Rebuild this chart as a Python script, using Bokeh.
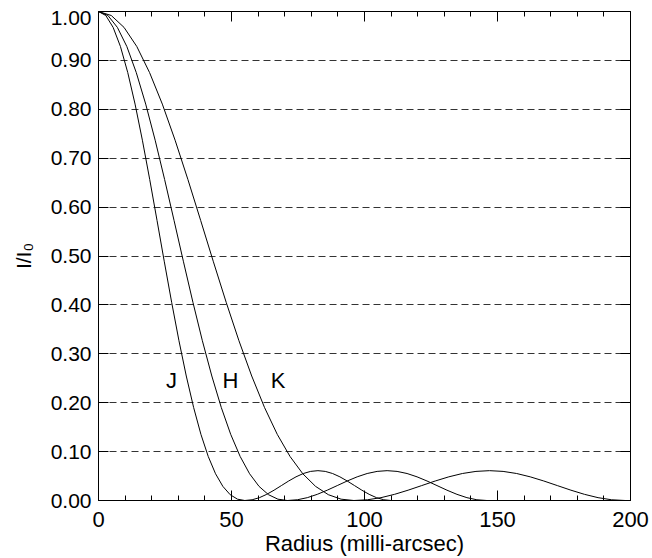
import math
from bokeh.plotting import figure
from bokeh.models import (Range1d, FixedTicker, LinearAxis, NumeralTickFormatter,
                          CustomJSTickFormatter, ColumnDataSource)
from bokeh.core.properties import value
from bokeh.embed import file_html
from bokeh.resources import INLINE

# ---- data ----
# radius (milli-arcsec) sample points for each band
j_radius = [0, 2.75, 5.5, 8.25, 11, 13.75, 16.5, 19.25, 22, 24.75, 27.5, 30.25, 33, 35.75,
            38.5, 41.25, 44, 46.75, 49.5, 52.25, 55, 57.75, 60.5, 63.25, 66, 68.75, 71.5,
            74.25, 77, 79.75, 82.5, 85.25, 88, 90.75, 93.5, 96.25, 99, 101.75, 104.5,
            107.25, 110, 200]
h_radius = [0, 3.55, 7.1, 10.65, 14.2, 17.75, 21.3, 24.85, 28.4, 31.95, 35.5, 39.05, 42.6,
            46.15, 49.7, 53.25, 56.8, 60.35, 63.9, 67.45, 71, 74.75, 78.5, 82.25, 86, 89.75,
            93.5, 97.25, 101, 104.75, 108.5, 112.25, 116, 119.75, 123.5, 127.25, 131,
            134.75, 138.5, 142.25, 146, 200]
k_radius = [0, 4.8, 9.6, 14.4, 19.2, 24, 28.8, 33.6, 38.4, 43.2, 48, 52.8, 57.6, 62.4, 67.2,
            72, 76.8, 81.6, 86.4, 91.2, 96, 101.1, 106.2, 111.3, 116.4, 121.5, 126.6, 131.7,
            136.8, 141.9, 147, 152.1, 157.2, 162.3, 167.4, 172.5, 177.6, 182.7, 187.8,
            192.9, 198, 200]
# normalised intensity I/I0 at those points (same profile shape for the three bands)
j_intensity = [1.0, 0.9918, 0.9675, 0.9284, 0.8751, 0.8106, 0.7368, 0.6566, 0.5728, 0.4881,
               0.4053, 0.3267, 0.2546, 0.1904, 0.1353, 0.0901, 0.0547, 0.0289, 0.0119,
               0.0027, 0.0, 0.0015, 0.0058, 0.0126, 0.0211, 0.0305, 0.0399, 0.0484, 0.0552,
               0.0595, 0.061, 0.0595, 0.0552, 0.0484, 0.0399, 0.0305, 0.0211, 0.0126,
               0.0058, 0.0015, 0.0, 0.0]
h_intensity = list(j_intensity)
k_intensity = list(j_intensity)

band_names = ["J", "H", "K"]
band_label_x = [27.4, 49.6, 67.5]
band_label_y = [0.246, 0.246, 0.246]

x_ticks = [0, 50, 100, 150, 200]
x_minor_ticks = [10, 20, 30, 40, 60, 70, 80, 90, 110, 120, 130, 140, 160, 170, 180, 190]
y_ticks = [0.0, 0.1, 0.2, 0.3, 0.4, 0.5, 0.6, 0.7, 0.8, 0.9]
grid_levels = [0.1, 0.2, 0.3, 0.4, 0.5, 0.6, 0.7, 0.8, 0.9]
top_label = "1.00"
x_title = "Radius (milli-arcsec)"
y_title = "I/I\u2080"

FONT = "Liberation Sans"
TOP_LABEL_POS = 0.9857   # the "1.00" label sits a few pixels under the top edge

p = figure(width=652, height=558, output_backend="svg", toolbar_location=None,
           x_range=Range1d(0, 200), y_range=Range1d(0, 1),
           min_border_left=98, min_border_right=22, min_border_top=11, min_border_bottom=58)
p.background_fill_color = "white"
p.border_fill_color = "white"
p.outline_line_color = "black"
p.outline_line_width = 1

# grid
p.xgrid.visible = False
p.ygrid.ticker = FixedTicker(ticks=grid_levels, minor_ticks=[])
p.ygrid.grid_line_color = "#333333"
p.ygrid.grid_line_width = 1
p.ygrid.grid_line_dash = "7 4"

blank = CustomJSTickFormatter(code="return '';")

def ticks_only(ax, minor_len):
    ax.axis_line_color = "black"
    ax.axis_line_width = 1
    ax.major_tick_line_color = "black"
    ax.minor_tick_line_color = "black"
    ax.major_tick_in = 10
    ax.major_tick_out = 0
    ax.minor_tick_in = minor_len
    ax.minor_tick_out = 0
    ax.formatter = blank
    ax.major_label_text_font_size = "0px"
    ax.major_label_standoff = 0
    ax.axis_label_standoff = 0

# bottom axis: ticks + labels + title
xb = p.xaxis[0]
xb.ticker = FixedTicker(ticks=x_ticks, minor_ticks=x_minor_ticks)
xb.axis_line_color = "black"
xb.major_tick_line_color = "black"
xb.minor_tick_line_color = "black"
xb.major_tick_in = 10
xb.major_tick_out = 0
xb.minor_tick_in = 5
xb.minor_tick_out = 0
xb.major_label_text_font = FONT
xb.major_label_text_font_size = "22px"
xb.major_label_text_color = "black"
xb.major_label_standoff = 11
xb.axis_label = x_title
xb.axis_label_text_font = FONT
xb.axis_label_text_font_size = "22px"
xb.axis_label_text_font_style = "normal"
xb.axis_label_text_color = "black"
xb.axis_label_standoff = 1

# left axis (closest to frame): tick marks only
yl = p.yaxis[0]
yl.ticker = FixedTicker(ticks=y_ticks, minor_ticks=[])
ticks_only(yl, 0)

# second left axis: tick labels and title only
yl2 = LinearAxis(ticker=FixedTicker(ticks=y_ticks + [TOP_LABEL_POS], minor_ticks=[]),
                 formatter=NumeralTickFormatter(format="0.00"))
yl2.major_label_overrides = {TOP_LABEL_POS: top_label}
yl2.axis_line_color = None
yl2.major_tick_line_color = None
yl2.minor_tick_line_color = None
yl2.major_tick_in = 0
yl2.major_tick_out = 0
yl2.major_label_text_font = FONT
yl2.major_label_text_font_size = "21px"
yl2.major_label_text_color = "black"
yl2.major_label_standoff = 7
yl2.axis_label = y_title
yl2.axis_label_text_font = FONT
yl2.axis_label_text_font_size = "21px"
yl2.axis_label_text_font_style = "normal"
yl2.axis_label_text_color = "black"
yl2.axis_label_standoff = 13
p.add_layout(yl2, "left")

# top axis
xt = LinearAxis(ticker=FixedTicker(ticks=x_ticks, minor_ticks=x_minor_ticks))
ticks_only(xt, 5)
p.add_layout(xt, "above")

# right axis
yr = LinearAxis(ticker=FixedTicker(ticks=y_ticks, minor_ticks=[]))
ticks_only(yr, 0)
p.add_layout(yr, "right")

# curves
for xs, ys in [(j_radius, j_intensity), (h_radius, h_intensity), (k_radius, k_intensity)]:
    p.line(xs, ys, line_color="black", line_width=1)

# band labels
src = ColumnDataSource(dict(x=band_label_x, y=band_label_y, t=band_names))
p.text(x="x", y="y", text="t", source=src, text_align="center", text_baseline="middle",
       text_font=value(FONT), text_font_size="22px", text_color="black")

open("out.html", "w").write(file_html(p, INLINE))
